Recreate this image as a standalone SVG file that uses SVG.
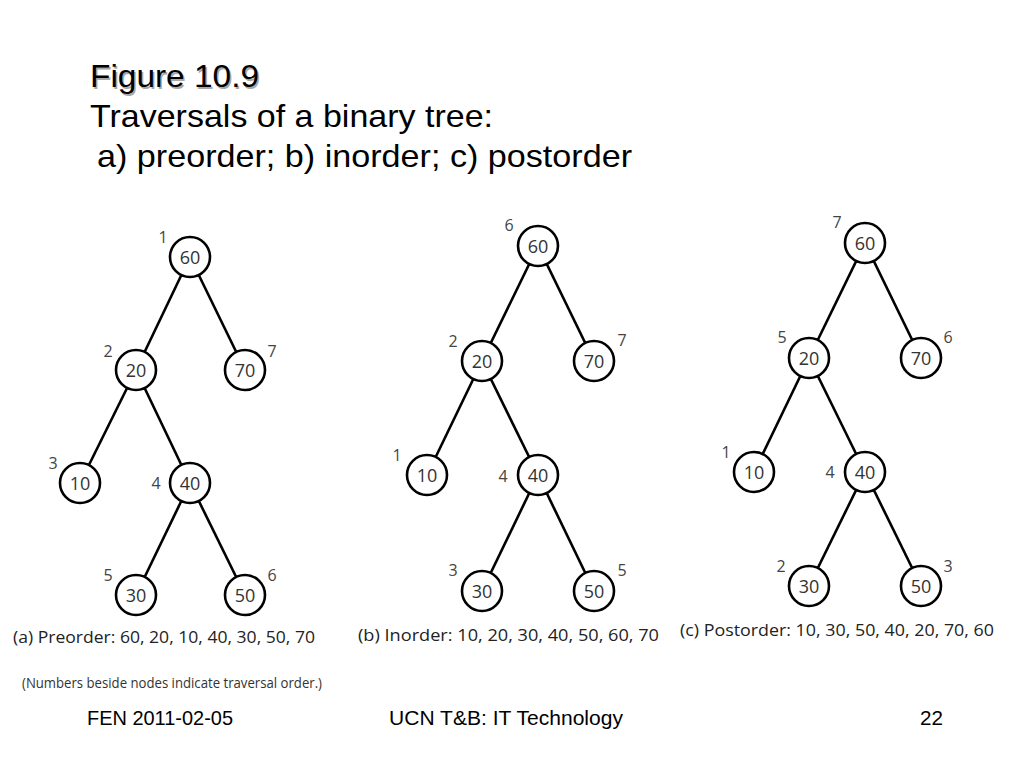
<svg xmlns="http://www.w3.org/2000/svg" width="1024" height="768" viewBox="0 0 1024 768">
<style>
.title{font-family:"Liberation Sans",Arial,sans-serif;font-size:32px;fill:#000}
.shadow{font-family:"Liberation Sans",Arial,sans-serif;font-size:32px;fill:#a8a8a8}
.foot{font-family:"Liberation Sans",Arial,sans-serif;font-size:21px;fill:#000}
.node circle{fill:#fff;stroke:#000;stroke-width:2.6}
.node text{font-family:"Open Sans","Noto Sans",sans-serif;font-size:18px;fill:#333;text-anchor:middle;dominant-baseline:central}
.ord{font-family:"Open Sans","Noto Sans",sans-serif;font-size:16px;fill:#444;text-anchor:middle;dominant-baseline:central}
.cap{font-family:"Open Sans","Noto Sans",sans-serif;font-size:17px;fill:#222}
.note{font-family:"Open Sans","Noto Sans",sans-serif;font-size:14px;fill:#333}
.edges line{stroke:#000;stroke-width:2.6}
</style>
<rect width="1024" height="768" fill="#fff"/>
<g id="title">
<text class="shadow" x="91.5" y="88.5" textLength="169" lengthAdjust="spacingAndGlyphs">Figure 10.9</text>
<text class="title" x="90" y="87" textLength="169" lengthAdjust="spacingAndGlyphs">Figure 10.9</text>
<text class="title" x="90" y="127" textLength="403" lengthAdjust="spacingAndGlyphs">Traversals of a binary tree:</text>
<text class="title" x="97" y="167" textLength="535" lengthAdjust="spacingAndGlyphs">a) preorder; b) inorder; c) postorder</text>
</g>
<g class="edges" id="connectors">
<line x1="190" y1="257" x2="136" y2="370"/><line x1="190" y1="257" x2="245" y2="370"/>
<line x1="136" y1="370" x2="80" y2="483"/><line x1="136" y1="370" x2="190" y2="483"/>
<line x1="190" y1="483" x2="136" y2="595"/><line x1="190" y1="483" x2="245" y2="595"/>
<line x1="538" y1="246" x2="482" y2="361"/><line x1="538" y1="246" x2="594" y2="361"/>
<line x1="482" y1="361" x2="427" y2="475"/><line x1="482" y1="361" x2="538" y2="475"/>
<line x1="538" y1="475" x2="482" y2="591"/><line x1="538" y1="475" x2="594" y2="591"/>
<line x1="865" y1="243" x2="809" y2="358"/><line x1="865" y1="243" x2="921" y2="358"/>
<line x1="809" y1="358" x2="754" y2="472"/><line x1="809" y1="358" x2="865" y2="472"/>
<line x1="865" y1="472" x2="809" y2="586"/><line x1="865" y1="472" x2="921" y2="586"/>
</g>
<g id="tree-a">
<g class="node" id="a60"><circle cx="190" cy="257" r="20"/><text x="190" y="257">60</text></g>
<g class="node" id="a20"><circle cx="136" cy="370" r="20"/><text x="136" y="370">20</text></g>
<g class="node" id="a70"><circle cx="245" cy="370" r="20"/><text x="245" y="370">70</text></g>
<g class="node" id="a10"><circle cx="80" cy="483" r="20"/><text x="80" y="483">10</text></g>
<g class="node" id="a40"><circle cx="190" cy="483" r="20"/><text x="190" y="483">40</text></g>
<g class="node" id="a30"><circle cx="136" cy="595" r="20"/><text x="136" y="595">30</text></g>
<g class="node" id="a50"><circle cx="245" cy="595" r="20"/><text x="245" y="595">50</text></g>
<text class="ord" x="163" y="237">1</text><text class="ord" x="108" y="351">2</text><text class="ord" x="272" y="351">7</text>
<text class="ord" x="53" y="463">3</text><text class="ord" x="156" y="483">4</text><text class="ord" x="108" y="575">5</text><text class="ord" x="272" y="575">6</text>
<text class="cap" x="13" y="643" textLength="302" lengthAdjust="spacingAndGlyphs">(a) Preorder: 60, 20, 10, 40, 30, 50, 70</text>
<text class="note" x="22" y="688" textLength="300" lengthAdjust="spacingAndGlyphs">(Numbers beside nodes indicate traversal order.)</text>
</g>
<g id="tree-b">
<g class="node" id="b60"><circle cx="538" cy="246" r="20"/><text x="538" y="246">60</text></g>
<g class="node" id="b20"><circle cx="482" cy="361" r="20"/><text x="482" y="361">20</text></g>
<g class="node" id="b70"><circle cx="594" cy="361" r="20"/><text x="594" y="361">70</text></g>
<g class="node" id="b10"><circle cx="427" cy="475" r="20"/><text x="427" y="475">10</text></g>
<g class="node" id="b40"><circle cx="538" cy="475" r="20"/><text x="538" y="475">40</text></g>
<g class="node" id="b30"><circle cx="482" cy="591" r="20"/><text x="482" y="591">30</text></g>
<g class="node" id="b50"><circle cx="594" cy="591" r="20"/><text x="594" y="591">50</text></g>
<text class="ord" x="509" y="225">6</text><text class="ord" x="453" y="341">2</text><text class="ord" x="622" y="340">7</text>
<text class="ord" x="397" y="455">1</text><text class="ord" x="503" y="476">4</text><text class="ord" x="453" y="570">3</text><text class="ord" x="622" y="570">5</text>
<text class="cap" x="358" y="641" textLength="301" lengthAdjust="spacingAndGlyphs">(b) Inorder: 10, 20, 30, 40, 50, 60, 70</text>
</g>
<g id="tree-c">
<g class="node" id="c60"><circle cx="865" cy="243" r="20"/><text x="865" y="243">60</text></g>
<g class="node" id="c20"><circle cx="809" cy="358" r="20"/><text x="809" y="358">20</text></g>
<g class="node" id="c70"><circle cx="921" cy="358" r="20"/><text x="921" y="358">70</text></g>
<g class="node" id="c10"><circle cx="754" cy="472" r="20"/><text x="754" y="472">10</text></g>
<g class="node" id="c40"><circle cx="865" cy="472" r="20"/><text x="865" y="472">40</text></g>
<g class="node" id="c30"><circle cx="809" cy="586" r="20"/><text x="809" y="586">30</text></g>
<g class="node" id="c50"><circle cx="921" cy="586" r="20"/><text x="921" y="586">50</text></g>
<text class="ord" x="837" y="222">7</text><text class="ord" x="782" y="337">5</text><text class="ord" x="948" y="337">6</text>
<text class="ord" x="726" y="452">1</text><text class="ord" x="830" y="472">4</text><text class="ord" x="781" y="566">2</text><text class="ord" x="948" y="566">3</text>
<text class="cap" x="680" y="636" textLength="314" lengthAdjust="spacingAndGlyphs">(c) Postorder: 10, 30, 50, 40, 20, 70, 60</text>
</g>
<g id="footer">
<text class="foot" x="87" y="725" textLength="146" lengthAdjust="spacingAndGlyphs">FEN 2011-02-05</text>
<text class="foot" x="389" y="725" textLength="234" lengthAdjust="spacingAndGlyphs">UCN T&amp;B: IT Technology</text>
<text class="foot" x="920" y="725" textLength="23" lengthAdjust="spacingAndGlyphs">22</text>
</g>
</svg>
